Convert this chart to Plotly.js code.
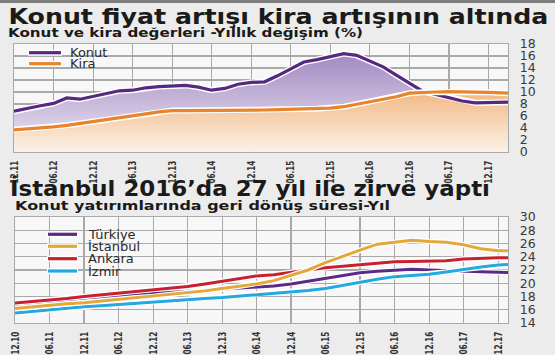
<!DOCTYPE html>
<html><head><meta charset="utf-8">
<script src="https://cdn.plot.ly/plotly-3.0.1.min.js"></script>
<style>html,body{margin:0;padding:0;background:#ececec;}#chart{width:555px;height:355px;}</style>
</head><body><div id="chart"></div>
<script>
// ---- Top chart data (annual % change, bimonthly) ----
const topDates = ['2011-12','2012-02','2012-04','2012-06','2012-08','2012-10','2012-12','2013-02','2013-04','2013-06','2013-08','2013-10','2013-12','2014-02','2014-04','2014-06','2014-08','2014-10','2014-12','2015-02','2015-04','2015-06','2015-08','2015-10','2015-12','2016-02','2016-04','2016-06','2016-08','2016-10','2016-12','2017-02','2017-04','2017-06','2017-08','2017-10','2017-12','2018-02','2018-03'];
const konut = [6.8,7.3,7.7,8.1,9.0,8.8,9.3,9.8,10.2,10.3,10.7,10.9,11.0,11.1,10.8,10.3,10.6,11.3,11.6,11.7,12.7,13.9,15.0,15.4,15.9,16.4,16.1,15.2,14.2,12.8,11.4,10.1,9.6,9.1,8.5,8.2,8.2,8.3,8.3];
const kira  = [3.7,3.85,4.0,4.2,4.45,4.75,5.05,5.35,5.65,6.0,6.35,6.7,6.9,6.9,6.9,6.9,6.9,6.9,6.95,7.0,7.05,7.1,7.15,7.2,7.3,7.55,7.95,8.4,8.75,9.2,9.8,9.95,10.0,10.05,10.05,10.0,9.95,9.85,9.8];
const topNames = ['Konut','Kira'];

// ---- Bottom chart data (payback period, years, quarterly) ----
const botDates = ['2010-12','2011-03','2011-06','2011-09','2011-12','2012-03','2012-06','2012-09','2012-12','2013-03','2013-06','2013-09','2013-12','2014-03','2014-06','2014-09','2014-12','2015-03','2015-06','2015-09','2015-12','2016-03','2016-06','2016-09','2016-12','2017-03','2017-06','2017-09','2017-12','2018-02'];
const turkiye  = [16.8,17.05,17.3,17.5,17.7,17.9,18.1,18.3,18.5,18.65,18.8,18.95,19.1,19.3,19.5,19.6,19.9,20.3,20.7,21.2,21.6,21.8,21.9,22.1,22.0,21.95,21.85,21.75,21.65,21.6];
const istanbul = [16.2,16.45,16.7,16.9,17.05,17.3,17.6,17.8,18.0,18.25,18.5,18.85,19.2,19.55,19.9,20.4,21.2,22.0,23.1,24.0,25.0,25.9,26.2,26.5,26.3,26.2,25.8,25.2,24.9,24.9];
const ankara   = [17.0,17.2,17.45,17.7,18.0,18.25,18.5,18.75,19.0,19.25,19.5,19.9,20.3,20.7,21.1,21.3,21.7,22.0,22.35,22.6,22.85,23.1,23.25,23.3,23.35,23.4,23.65,23.8,23.85,23.85];
const izmir    = [15.5,15.75,16.0,16.2,16.45,16.6,16.8,17.0,17.2,17.4,17.55,17.7,17.85,18.05,18.3,18.5,18.7,18.9,19.2,19.7,20.2,20.6,21.0,21.2,21.35,21.7,22.1,22.45,22.75,22.85];
const botNames = ['Türkiye','İstanbul','Ankara','İzmir'];

const W = 555, H = 355;
const px = x => x / W, py = y => 1 - y / H;

const cPurple = '#55297f', cOrange = '#e8842c';
const botColors = ['#5b2a86', '#e2a83a', '#c7202f', '#24a8e0'];

const traces = [];
traces.push({x: topDates, y: konut, type: 'scatter', mode: 'lines', fill: 'tozeroy', line: {width: 0, color: cPurple},
  fillgradient: {type: 'vertical', start: 0, stop: 16.5, colorscale: [[0, '#efeaf4'], [1, '#a189c2']]}, hoverinfo: 'skip', showlegend: false});
traces.push({x: topDates, y: kira, type: 'scatter', mode: 'lines', fill: 'tozeroy', line: {width: 0, color: cOrange},
  fillgradient: {type: 'vertical', start: 0, stop: 10, colorscale: [[0, '#fbf2e8'], [1, '#f2b883']]}, hoverinfo: 'skip', showlegend: false});
[[konut, cPurple, topNames[0]], [kira, cOrange, topNames[1]]].forEach(([vals, col, nm]) => {
  traces.push({x: topDates, y: vals, type: 'scatter', mode: 'lines', line: {width: 6, color: '#ffffff'}, showlegend: false, hoverinfo: 'skip'});
  traces.push({x: topDates, y: vals, type: 'scatter', mode: 'lines', name: nm, line: {width: 3.2, color: col}, showlegend: false});
});
const botSeries = [turkiye, istanbul, ankara, izmir];
[0, 2, 3, 1].forEach(i => {
  traces.push({x: botDates, y: botSeries[i], xaxis: 'x2', yaxis: 'y2', type: 'scatter', mode: 'lines', line: {width: 5.5, color: '#ffffff'}, showlegend: false, hoverinfo: 'skip'});
  traces.push({x: botDates, y: botSeries[i], xaxis: 'x2', yaxis: 'y2', type: 'scatter', mode: 'lines', name: botNames[i], line: {width: 3, color: botColors[i]}, showlegend: false});
});

const gridC = '#a9a9a9';
const xTickFont = {family: 'DejaVu Sans Condensed, DejaVu Sans, sans-serif', size: 11, color: '#333', weight: 'bold'};
const yTickFont = {family: 'DejaVu Sans, sans-serif', size: 12.5, color: '#3a3a3a'};
const xCommon = {type: 'date', dtick: 'M6', tickformat: '%m.%y', tickangle: -90, tickfont: xTickFont, showgrid: true, gridcolor: gridC, gridwidth: 1.2,
  showline: true, mirror: true, linecolor: gridC, linewidth: 1.2, ticks: '', ticklabelstandoff: 3, fixedrange: true};
const yCommon = {dtick: 2, side: 'right', tickfont: yTickFont, showgrid: true, gridcolor: gridC, gridwidth: 1.2, zeroline: false,
  showline: true, mirror: true, linecolor: gridC, linewidth: 1.2, ticks: '', ticklabelstandoff: 8, fixedrange: true};

const layout = {
  width: W, height: H, margin: {l: 0, r: 0, t: 0, b: 0},
  paper_bgcolor: '#ececec', plot_bgcolor: '#f7f7f7', showlegend: false,
  xaxis: Object.assign({}, xCommon, {domain: [px(14), px(508)], range: ['2011-12-01', '2018-03-01'], tick0: '2011-12-01', anchor: 'y'}),
  yaxis: Object.assign({}, yCommon, {domain: [py(152), py(44)], range: [0, 18], anchor: 'x'}),
  xaxis2: Object.assign({}, xCommon, {domain: [px(15), px(508)], range: ['2010-12-01', '2018-01-22'], tick0: '2010-12-01', anchor: 'y2'}),
  yaxis2: Object.assign({}, yCommon, {domain: [py(323), py(217)], range: [14, 30], anchor: 'x2'}),
  shapes: [
    {type: 'rect', xref: 'paper', yref: 'paper', x0: 0, x1: 1, y0: py(3), y1: 1, fillcolor: '#7d7d7d', line: {width: 0}}
  ],
  annotations: []
};

const fitWidths = {};
function ann(text, x, y, font, fitW) {
  if (fitW) {
    // centred so that the fitted text spans [x, x + fitW]
    layout.annotations.push({text: text, xref: 'paper', yref: 'paper', x: px(x + fitW / 2), y: py(y), xanchor: 'center', yanchor: 'middle', showarrow: false, font: font, borderpad: 0});
    fitWidths[text] = fitW;
  } else {
    layout.annotations.push({text: text, xref: 'paper', yref: 'paper', x: px(x), y: py(y), xanchor: 'left', yanchor: 'middle', showarrow: false, font: font, borderpad: 0});
  }
}
const titleFont = {family: 'DejaVu Sans, sans-serif', size: 21, color: '#1a1a1a', weight: 'bold'};
const subFont = {family: 'DejaVu Sans, sans-serif', size: 13, color: '#1a1a1a', weight: 'bold'};
ann('Konut fiyat artışı kira artışının altında', 8, 17, titleFont, 540);
ann('Konut ve kira değerleri -Yıllık değişim (%)', 8, 33, subFont, 355);
ann('İstanbul 2016’da 27 yıl ile zirve yaptı', 10, 189, titleFont, 480);
ann('Konut yatırımlarında geri dönüş süresi-Yıl', 15, 205, subFont, 375);

function legendItem(name, col, x0, x1, y, tx) {
  layout.shapes.push({type: 'line', xref: 'paper', yref: 'paper', x0: px(x0), x1: px(x1), y0: py(y), y1: py(y), line: {color: '#ffffff', width: 6}});
  layout.shapes.push({type: 'line', xref: 'paper', yref: 'paper', x0: px(x0 + 1), x1: px(x1 - 1), y0: py(y), y1: py(y), line: {color: col, width: 3.2}});
  ann(name, tx, y, {family: 'DejaVu Sans, sans-serif', size: 13, color: '#2a2a2a'});
}
legendItem(topNames[0], cPurple, 28, 62, 52.7, 69);
legendItem(topNames[1], cOrange, 28, 62, 63.7, 69);
const legY = [234.3, 246.3, 258.7, 271];
botNames.forEach((n, i) => legendItem(n, botColors[i], 47, 78, legY[i], 87));

Plotly.newPlot('chart', traces, layout, {staticPlot: true}).then(() => {
  document.querySelectorAll('text.annotation-text').forEach(t => {
    const w = fitWidths[t.textContent];
    if (w) { t.setAttribute('textLength', w); t.setAttribute('lengthAdjust', 'spacingAndGlyphs'); }
  });
  document.querySelectorAll('.xtick text, .x2tick text').forEach(t => {
    t.setAttribute('textLength', 23); t.setAttribute('lengthAdjust', 'spacingAndGlyphs');
  });
});
</script>
</body></html>
